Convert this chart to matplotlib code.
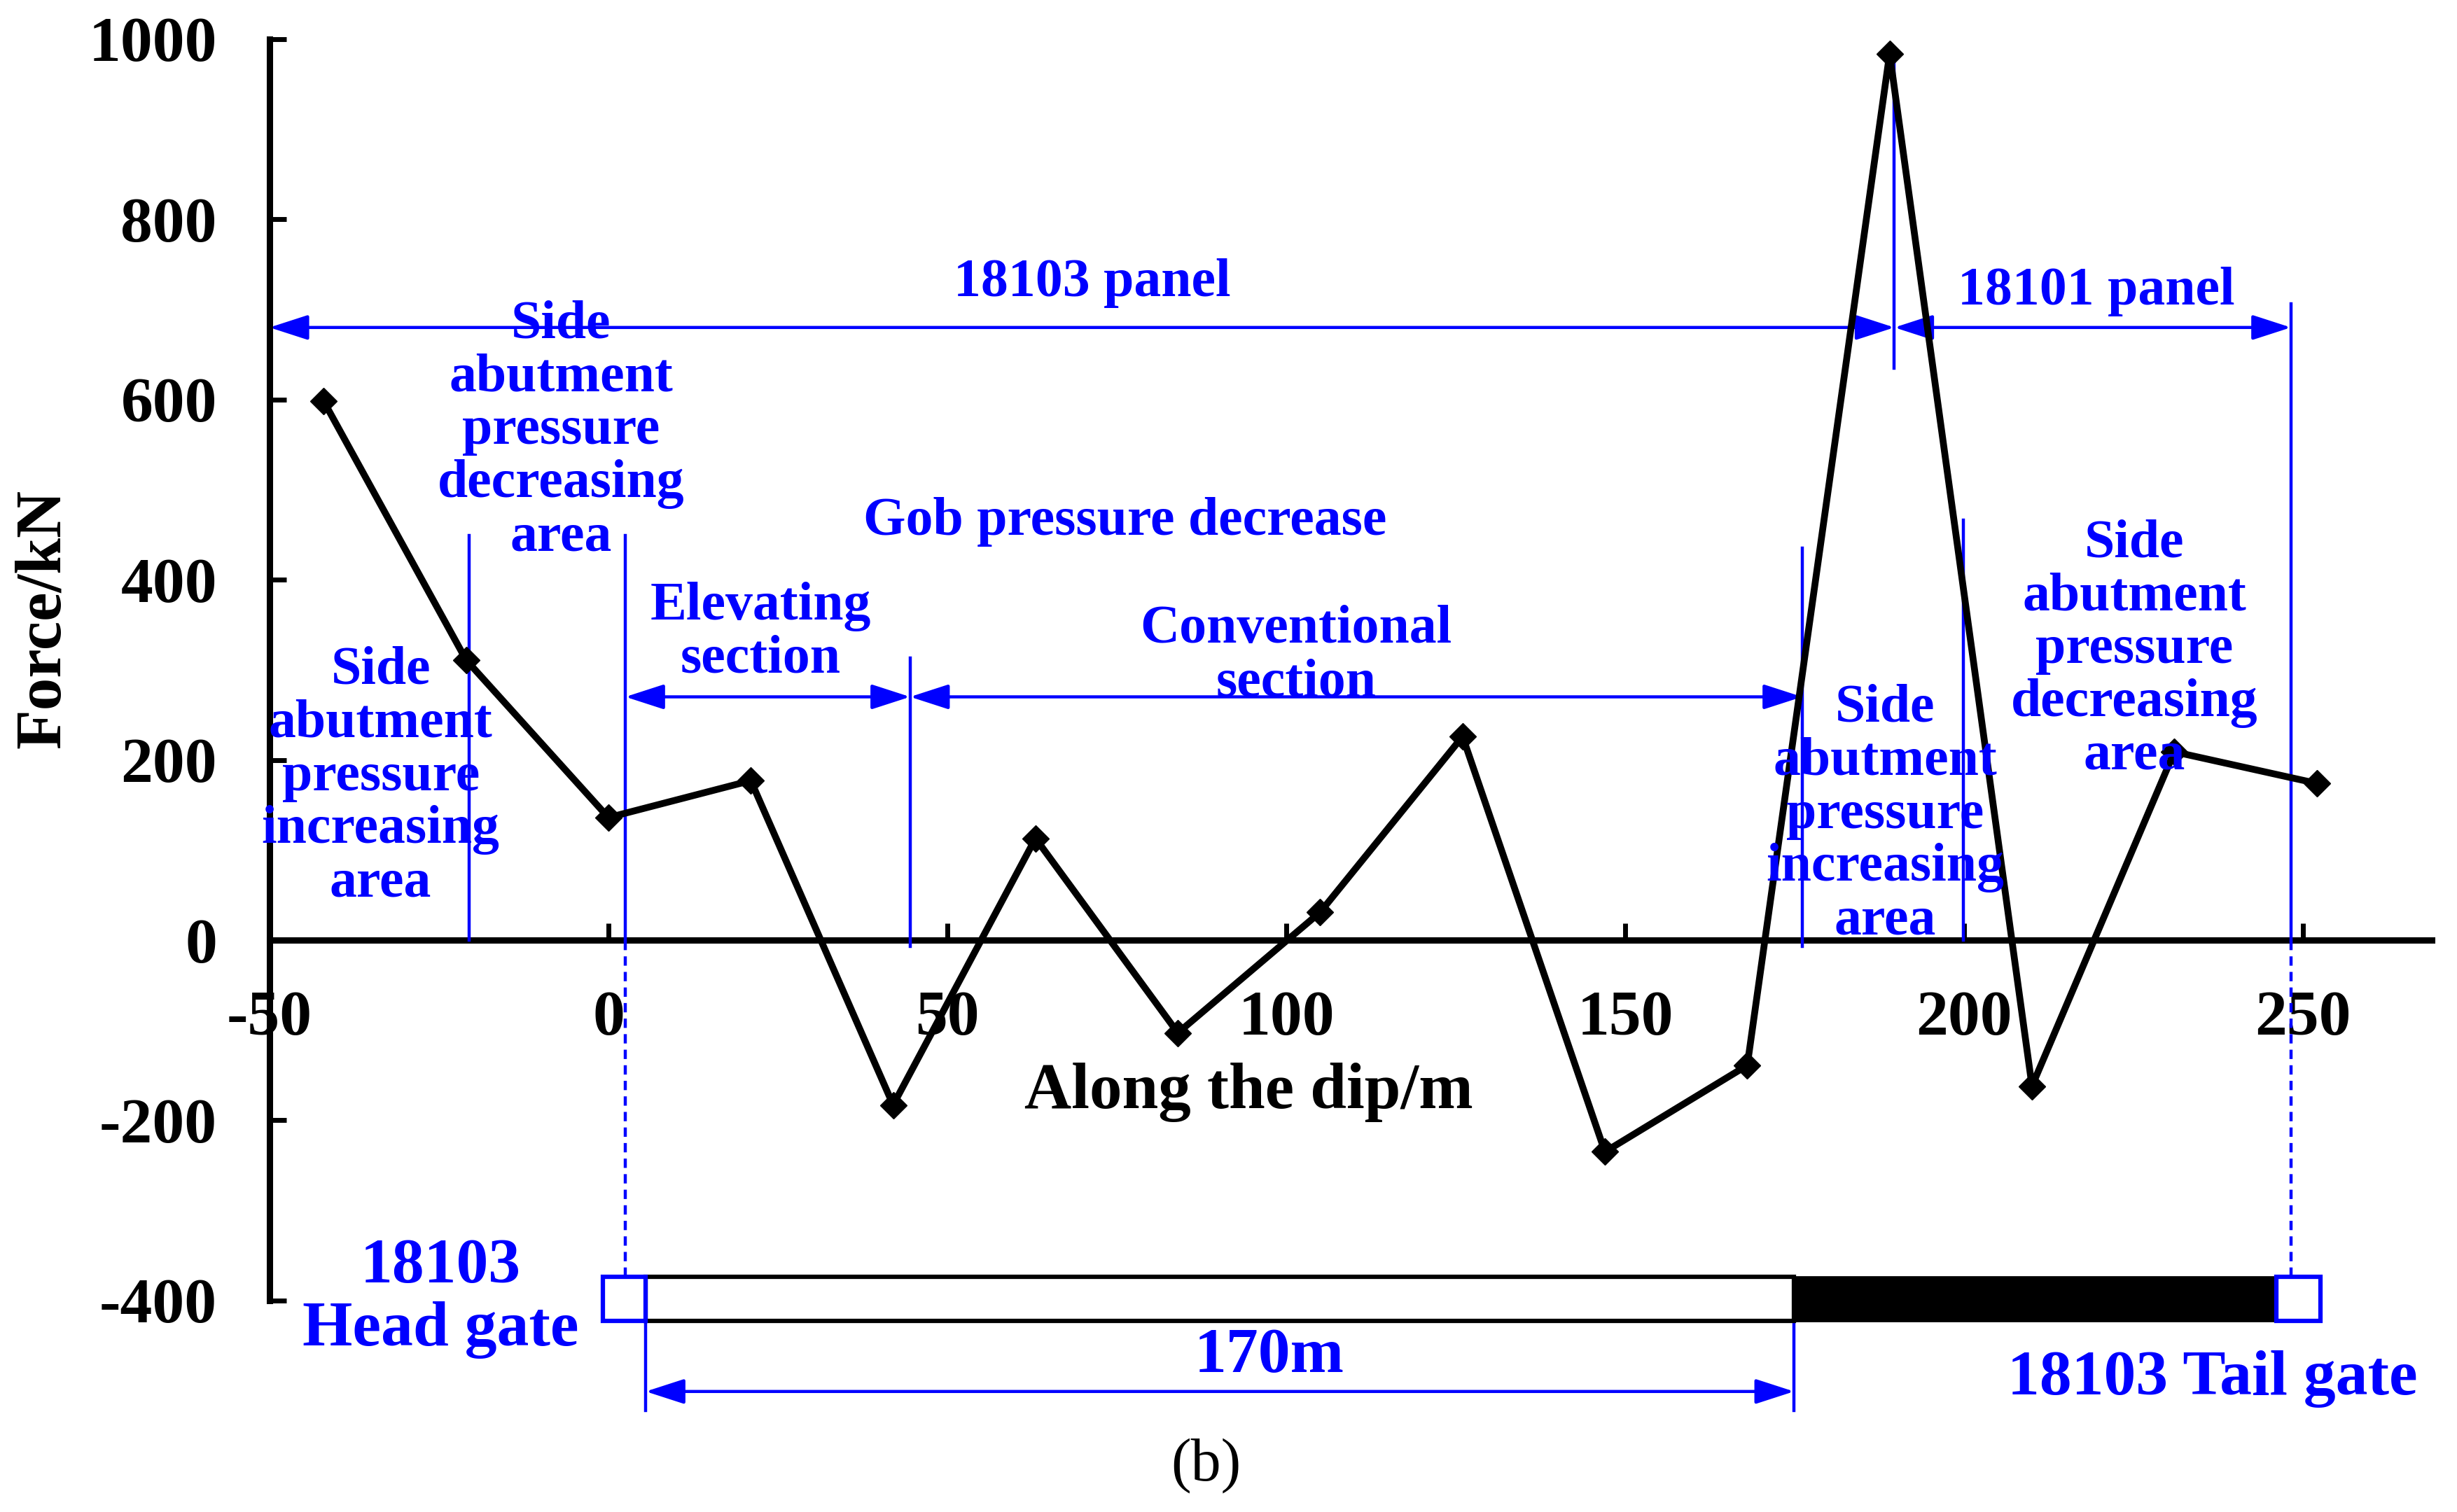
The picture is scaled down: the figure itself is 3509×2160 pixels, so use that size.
import matplotlib
matplotlib.use("Agg")
import matplotlib.pyplot as plt
from matplotlib.patches import Rectangle, FancyArrowPatch

# ---------------- data ----------------
dip_m = [-42, -21, 0, 21, 42, 63, 84, 105, 126, 147, 168, 189, 210, 231, 252]
force_kN = [598, 311, 136, 177, -183, 113, -103, 31, 226, -235, -139, 984, -162, 209, 174]
x_ticks = [-50, 0, 50, 100, 150, 200, 250]
y_ticks = [-400, -200, 0, 200, 400, 600, 800, 1000]

BLUE = "#0000FF"
plt.rcParams["axes.unicode_minus"] = False
plt.rcParams["font.family"] = ["Liberation Serif", "DejaVu Serif"]

W, H = 3509, 2160
fig = plt.figure(figsize=(W / 100, H / 100), dpi=100)
ax = fig.add_axes([172 / 1568, 1 - 830 / 965, (1552 - 172) / 1568, (830 - 25) / 965])
ax.set_xlim(-50, 269)
ax.set_ylim(-400, 1000)

for s in ["top", "right"]:
    ax.spines[s].set_visible(False)
ax.spines["bottom"].set_position(("data", 0))
ax.spines["left"].set_linewidth(6.5)
ax.spines["bottom"].set_linewidth(6.5)
ax.spines["left"].set_capstyle("projecting")

ax.set_xticks(x_ticks)
ax.set_yticks(y_ticks)
ax.set_xticklabels([str(v) for v in x_ticks])
ax.set_yticklabels([str(v) for v in y_ticks])
ax.tick_params(axis="both", direction="in", width=5, length=17,
               labelsize=66, colors="black")
ax.tick_params(axis="x", pad=52)
ax.tick_params(axis="y", pad=54)
for lab in ax.get_xticklabels() + ax.get_yticklabels():
    lab.set_fontweight("bold")

ax.set_xlabel("Along the dip/m", fontsize=67, fontweight="bold", va="center")
ax.xaxis.set_label_coords((797 - 172) / 1380, (830 - 697) / 805)
ax.set_ylabel("Force/kN", fontsize=67, fontweight="bold", va="center", ha="center")
ax.yaxis.set_label_coords((28 - 172) / 1380, (830 - 395) / 805)

# ---------------- data line ----------------
ax.plot(dip_m, force_kN, color="black", lw=7, marker="D", markersize=19,
        markerfacecolor="black", markeredgecolor="black", zorder=5, clip_on=False)

# ---------------- blue annotation lines ----------------
LW = 3.2
def vline(x, y0, y1, dashed=False):
    ax.plot([x, x], [y0, y1], color=BLUE, lw=LW, clip_on=False,
            linestyle=(0, (3, 2)) if dashed else "-", zorder=3)

vline(-20.6, 0, 449)
vline(2.5, 0, 449)
vline(2.5, -374, 0, dashed=True)
vline(44.5, -7, 313)
vline(176.1, -7, 435)
vline(189.7, 635, 988)
vline(199.9, 0, 466)
vline(248.2, 0, 706)
vline(248.2, -374, 0, dashed=True)
vline(5.5, -522, -423)
vline(174.9, -522, -423)

def darrow(x0, x1, y):
    a = FancyArrowPatch((x0, y), (x1, y), arrowstyle="<|-|>,head_length=34,head_width=11",
                        mutation_scale=1, color=BLUE, lw=LW, shrinkA=0, shrinkB=0,
                        clip_on=False, zorder=3)
    ax.add_patch(a)

darrow(-50, 189.7, 680)
darrow(189.7, 248.2, 680)
darrow(2.5, 44.5, 270)
darrow(44.5, 176.1, 270)
darrow(5.5, 174.9, -501)

# ---------------- bottom bar ----------------
ax.add_patch(Rectangle((5.5, -423), 174.9 - 5.5, 49, facecolor="white",
                       edgecolor="black", lw=4.5, clip_on=False, zorder=4))
ax.add_patch(Rectangle((174.9, -423), 246.1 - 174.9, 49, facecolor="black",
                       edgecolor="black", lw=2, clip_on=False, zorder=4))
ax.add_patch(Rectangle((-0.8, -423), 6.3, 49, facecolor="white",
                       edgecolor=BLUE, lw=4.5, clip_on=False, zorder=4))
ax.add_patch(Rectangle((246.1, -423), 6.5, 49, facecolor="white",
                       edgecolor=BLUE, lw=4.5, clip_on=False, zorder=4))

# ---------------- blue texts ----------------
def btext(x, y, s, size=56, ls=1.09):
    ax.text(x, y, s, color=BLUE, fontsize=size, fontweight="bold", ha="center",
            va="center", multialignment="center", linespacing=ls, clip_on=False, zorder=6)

btext(71.4, 729, "18103 panel")
btext(219.5, 720, "18101 panel")
btext(-7.0, 565, "Side\nabutment\npressure\ndecreasing\narea")
btext(76.2, 464, "Gob pressure decrease")
btext(22.4, 341, "Elevating\nsection")
btext(101.4, 315, "Conventional\nsection")
btext(-33.6, 181, "Side\nabutment\npressure\nincreasing\narea")
btext(188.3, 139, "Side\nabutment\npressure\nincreasing\narea")
btext(225.1, 322, "Side\nabutment\npressure\ndecreasing\narea")
btext(-24.8, -398, "18103\nHead gate", size=66, ls=1.13)
btext(236.6, -487, "18103 Tail gate", size=66)
btext(97.5, -462, "170m", size=66)

ax.text(88.2, -583, "(b)", fontsize=62, color="black", ha="center", va="center",
        clip_on=False)

fig.savefig("out.png", dpi=100, facecolor="white")
